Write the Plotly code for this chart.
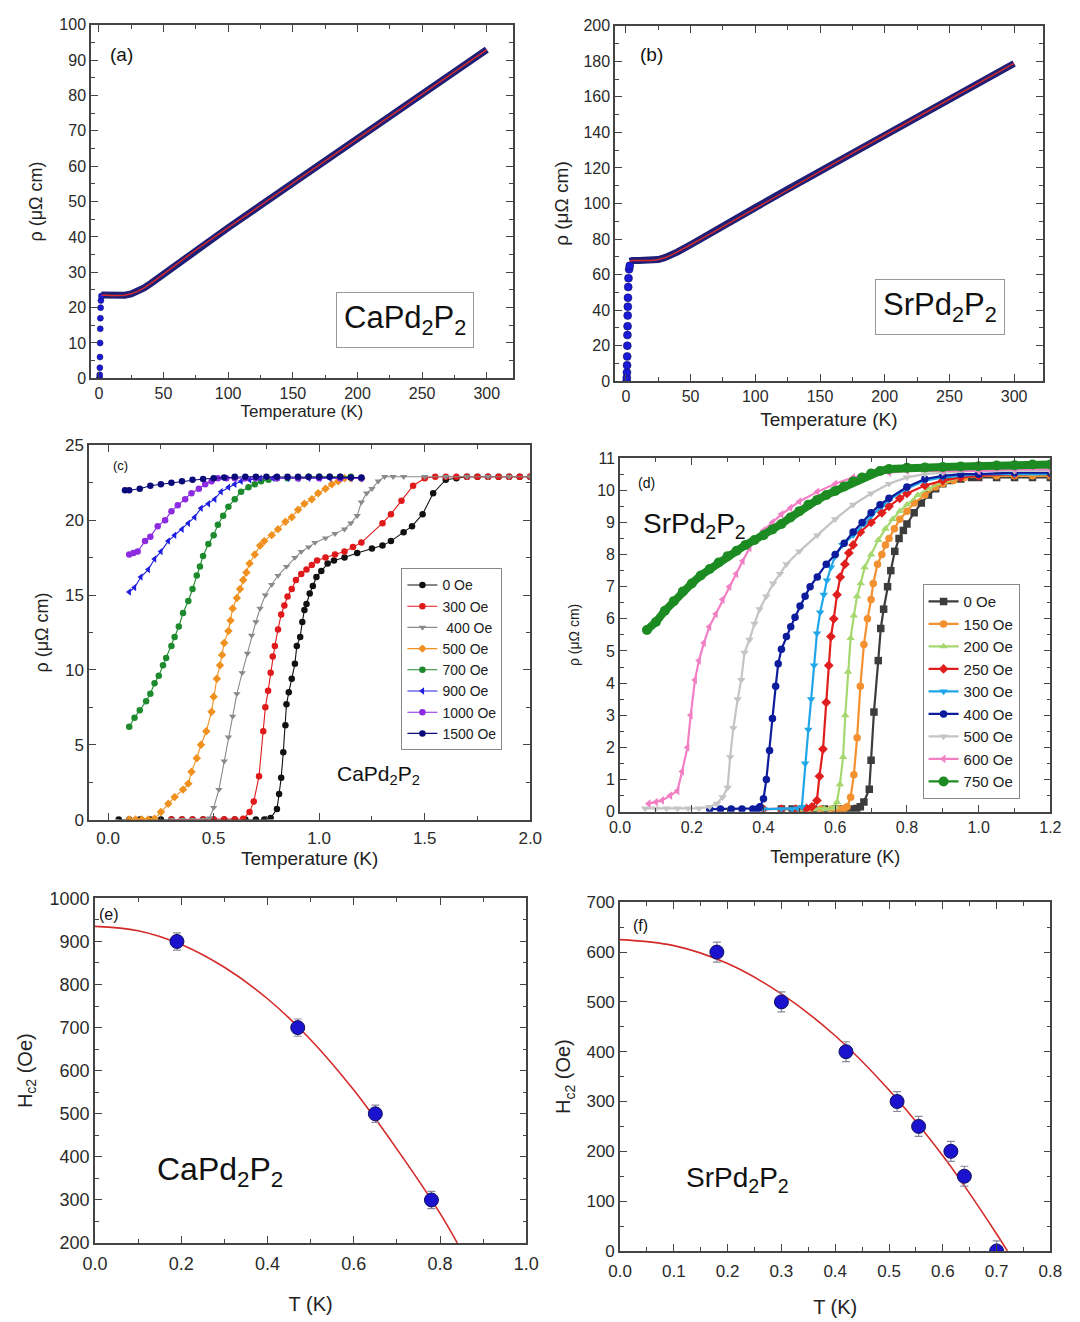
import plotly.graph_objects as go

W, H = 1080, 1322

# ---------------- (a) CaPd2P2, rho(T) up to 300 K ----------------
T_a = [2, 5, 10, 15, 20, 25, 30, 35, 40, 50, 60, 75, 100, 125, 150, 175, 200, 225, 250, 275, 300]
rho_a = [23.6, 23.5, 23.4, 23.4, 23.5, 23.9, 24.6, 25.6, 26.8, 29.5, 32.3, 36.3, 42.6, 48.9,
         55.2, 61.5, 67.8, 74.0, 80.3, 86.6, 93.0]
T_a_lo = [0.5, 0.6, 0.7, 0.8, 0.9, 1.0, 1.1, 1.2, 1.4, 1.6, 2.0]
rho_a_lo = [0, 0, 1, 3, 6, 10, 14, 17, 20, 22, 23.3]

# ---------------- (b) SrPd2P2, rho(T) up to 300 K ----------------
T_b = [3, 5, 10, 15, 20, 25, 30, 35, 40, 50, 60, 75, 100, 125, 150, 175, 200, 225, 250, 275, 300]
rho_b = [67.5, 68.0, 68.0, 67.9, 68.0, 68.5, 69.5, 71.0, 72.8, 76.8, 80.8, 87.0, 97.7, 108.0,
         118.2, 128.3, 138.4, 148.5, 158.6, 168.7, 178.8]
T_b_lo = [0.6, 0.7, 0.8, 0.9, 1.0, 1.1, 1.2, 1.3, 1.4, 1.5, 1.6, 1.8, 2.0, 2.5, 3.0]
rho_b_lo = [0, 2, 5, 9, 14, 20, 26, 31, 37, 42, 47, 53, 58, 63, 65]

# ---------------- (c) CaPd2P2, low-T transitions in field ----------------
c_labels = ["0 Oe", "300 Oe", " 400 Oe", "500 Oe", "700 Oe", "900 Oe", "1000 Oe", "1500 Oe"]
c_T = [
    [0.05, 0.1, 0.15, 0.2, 0.25, 0.3, 0.35, 0.4, 0.45, 0.5, 0.55, 0.6, 0.65, 0.7, 0.74, 0.77, 0.80,
     0.81, 0.82, 0.83, 0.84, 0.845, 0.856, 0.87, 0.885, 0.894, 0.91, 0.92, 0.93, 0.94, 0.955, 0.97,
     0.987, 1.01, 1.04, 1.07, 1.12, 1.18, 1.25, 1.3, 1.34, 1.4, 1.44, 1.49, 1.54, 1.6, 1.65, 1.7,
     1.75, 1.8, 1.85, 1.9, 1.95, 2.0],
    [0.3, 0.35, 0.4, 0.45, 0.5, 0.55, 0.6, 0.64, 0.67, 0.69, 0.715, 0.735, 0.745, 0.758, 0.77, 0.78,
     0.79, 0.805, 0.82, 0.835, 0.85, 0.87, 0.89, 0.915, 0.94, 0.965, 0.99, 1.03, 1.075, 1.12, 1.16,
     1.2, 1.3, 1.34, 1.39, 1.445, 1.5, 1.55, 1.6, 1.65, 1.7, 1.75, 1.8, 1.85, 1.9, 1.95, 2.0],
    [0.3, 0.35, 0.4, 0.45, 0.48, 0.50, 0.525, 0.55, 0.57, 0.59, 0.61, 0.635, 0.66, 0.68, 0.70, 0.72,
     0.745, 0.775, 0.805, 0.845, 0.885, 0.915, 0.95, 0.98, 1.03, 1.075, 1.12, 1.15, 1.18, 1.2, 1.225,
     1.25, 1.28, 1.31, 1.35, 1.4, 1.5, 1.6, 1.7, 1.8, 1.9, 2.0],
    [0.1, 0.13, 0.16, 0.19, 0.22, 0.25, 0.285, 0.315, 0.355, 0.38, 0.395, 0.42, 0.44, 0.465, 0.49,
     0.50, 0.515, 0.53, 0.54, 0.55, 0.57, 0.58, 0.59, 0.61, 0.625, 0.64, 0.655, 0.67, 0.695, 0.72,
     0.74, 0.775, 0.805, 0.84, 0.87, 0.9, 0.93, 0.965, 0.995, 1.03, 1.06, 1.09, 1.12, 1.15, 1.2],
    [0.1, 0.125, 0.15, 0.18, 0.2, 0.22, 0.24, 0.26, 0.275, 0.3, 0.315, 0.335, 0.355, 0.38, 0.4, 0.42,
     0.435, 0.45, 0.475, 0.5, 0.52, 0.545, 0.57, 0.6, 0.63, 0.665, 0.695, 0.725, 0.76, 0.8, 0.85,
     0.9, 0.95, 1.0, 1.05, 1.1, 1.15, 1.2],
    [0.1, 0.125, 0.155, 0.19, 0.22, 0.25, 0.285, 0.315, 0.35, 0.38, 0.41, 0.44, 0.475, 0.505, 0.535,
     0.57, 0.6, 0.63, 0.67, 0.72, 0.78, 0.85, 0.9, 0.95, 1.0, 1.05, 1.1, 1.15, 1.2],
    [0.1, 0.12, 0.14, 0.175, 0.2, 0.235, 0.27, 0.3, 0.33, 0.365, 0.395, 0.43, 0.46, 0.49, 0.52,
     0.56, 0.6, 0.65, 0.7, 0.8, 0.9, 1.0, 1.1, 1.2],
    [0.08, 0.1, 0.15, 0.2, 0.25, 0.3, 0.35, 0.4, 0.45, 0.5, 0.55, 0.6, 0.65, 0.7, 0.75, 0.8, 0.85,
     0.9, 0.95, 1.0, 1.05, 1.1, 1.15, 1.2],
]
c_rho = [
    [0, 0, 0, 0, 0, 0, 0, 0, 0, 0, 0, 0, 0, 0, 0, 0.1, 0.7, 1.7, 2.8, 4.5, 6.3, 7.7, 8.5, 9.4, 10.4,
     11.6, 12.2, 13.2, 14.0, 14.4, 15.1, 15.6, 16.2, 16.6, 17.1, 17.3, 17.5, 17.8, 18.1, 18.3, 18.6,
     19.2, 19.6, 20.4, 21.8, 22.7, 22.8, 22.9, 22.9, 22.9, 22.9, 22.9, 22.9, 22.9],
    [0, 0, 0, 0, 0, 0, 0, 0.05, 0.5, 1.2, 2.9, 5.9, 7.5, 8.6, 9.8, 10.9, 11.6, 12.7, 13.7, 14.3,
     14.9, 15.4, 16.0, 16.4, 16.7, 17.0, 17.3, 17.5, 17.7, 17.9, 18.2, 18.5, 19.8, 20.4, 21.3, 22.3,
     22.8, 22.9, 22.9, 22.9, 22.9, 22.9, 22.9, 22.9, 22.9, 22.9, 22.9],
    [0, 0, 0, 0, 0.1, 0.8, 2.0, 3.9, 5.5, 6.9, 8.4, 9.8, 11.1, 12.3, 13.2, 14.1, 15.0, 15.7, 16.3,
     16.9, 17.5, 17.9, 18.2, 18.5, 18.8, 19.1, 19.4, 19.8, 20.3, 21.2, 21.8, 22.1, 22.6, 22.9, 22.9,
     22.9, 22.9, 22.9, 22.9, 22.9, 22.9, 22.9],
    [0, 0, 0, 0, 0.05, 0.5, 1.05, 1.5, 2.0, 2.4, 3.2, 4.1, 5.0, 5.9, 7.2, 8.2, 9.4, 10.3, 11.0, 11.8,
     12.6, 13.3, 14.1, 14.8, 15.4, 16.0, 16.5, 17.1, 17.7, 18.3, 18.6, 19.0, 19.4, 19.9, 20.2, 20.7,
     21.1, 21.4, 21.8, 22.1, 22.4, 22.6, 22.8, 22.8, 22.8],
    [6.2, 6.8, 7.3, 7.9, 8.4, 9.1, 9.6, 10.3, 10.8, 11.6, 12.2, 12.9, 13.8, 14.6, 15.4, 16.3, 16.9,
     17.6, 18.4, 19.0, 19.7, 20.3, 20.9, 21.4, 21.9, 22.2, 22.4, 22.6, 22.7, 22.8, 22.8, 22.8, 22.9,
     22.9, 22.9, 22.9, 22.9, 22.8],
    [15.2, 15.5, 16.2, 16.7, 17.4, 17.9, 18.6, 19.0, 19.4, 19.8, 20.2, 20.8, 21.1, 21.4, 21.9, 22.2,
     22.4, 22.6, 22.7, 22.8, 22.8, 22.8, 22.8, 22.8, 22.8, 22.8, 22.8, 22.8, 22.8],
    [17.7, 17.8, 17.9, 18.6, 18.9, 19.6, 20.0, 20.6, 21.0, 21.4, 21.8, 22.1, 22.4, 22.6, 22.8, 22.8,
     22.8, 22.8, 22.8, 22.8, 22.8, 22.8, 22.8, 22.8],
    [22.0, 22.0, 22.1, 22.3, 22.4, 22.5, 22.6, 22.7, 22.75, 22.8, 22.85, 22.9, 22.9, 22.9, 22.9,
     22.9, 22.9, 22.9, 22.9, 22.9, 22.9, 22.9, 22.85, 22.85],
]
c_colors = ["#111111", "#e0191b", "#8a8a8a", "#f0901e", "#1e8a2e", "#1f1fe0", "#8c2be0", "#0a0a7a"]
c_symbols = ["circle", "circle", "triangle-down", "diamond", "circle", "triangle-left", "circle", "circle"]

# ---------------- (d) SrPd2P2, low-T transitions in field ----------------
d_labels = ["0 Oe", "150 Oe", "200 Oe", "250 Oe", "300 Oe", "400 Oe", "500 Oe", "600 Oe", "750 Oe"]
d_T = [
    [0.45, 0.48, 0.51, 0.54, 0.57, 0.60, 0.62, 0.64, 0.66, 0.67, 0.68, 0.695, 0.70, 0.708, 0.72,
     0.727, 0.735, 0.746, 0.755, 0.766, 0.778, 0.79, 0.80, 0.82, 0.84, 0.86, 0.88, 0.90, 0.92, 0.95,
     0.98, 1.0, 1.05, 1.1, 1.15, 1.2],
    [0.5, 0.53, 0.56, 0.59, 0.61, 0.625, 0.633, 0.643, 0.652, 0.661, 0.67, 0.68, 0.69, 0.70, 0.706,
     0.718, 0.73, 0.74, 0.75, 0.765, 0.78, 0.8, 0.82, 0.85, 0.88, 0.9, 0.93, 0.96, 1.0, 1.05, 1.1,
     1.15, 1.2],
    [0.45, 0.5, 0.54, 0.57, 0.59, 0.6, 0.605, 0.613, 0.622, 0.628, 0.636, 0.643, 0.652, 0.661, 0.671,
     0.682, 0.7, 0.72, 0.74, 0.76, 0.78, 0.8, 0.83, 0.86, 0.9, 0.95, 1.0, 1.05, 1.1, 1.15, 1.2],
    [0.4, 0.45, 0.49, 0.52, 0.535, 0.549, 0.556, 0.566, 0.575, 0.582, 0.588, 0.596, 0.605, 0.614,
     0.627, 0.638, 0.65, 0.67, 0.7, 0.73, 0.75, 0.78, 0.8, 0.85, 0.9, 0.95, 1.0, 1.1, 1.2],
    [0.4, 0.45, 0.48, 0.495, 0.507, 0.516, 0.525, 0.533, 0.541, 0.549, 0.558, 0.568, 0.577, 0.588,
     0.6, 0.62, 0.65, 0.68, 0.7, 0.73, 0.75, 0.8, 0.85, 0.9, 1.0, 1.1, 1.2],
    [0.25, 0.28, 0.31, 0.34, 0.37, 0.385, 0.39, 0.4, 0.408, 0.417, 0.425, 0.434, 0.441, 0.45, 0.464,
     0.476, 0.488, 0.502, 0.516, 0.53, 0.55, 0.575, 0.6, 0.625, 0.65, 0.675, 0.7, 0.725, 0.75, 0.8,
     0.85, 0.9, 0.95, 1.0, 1.1, 1.2],
    [0.07, 0.1, 0.13, 0.16, 0.19, 0.22, 0.25, 0.27, 0.286, 0.3, 0.307, 0.316, 0.328, 0.338, 0.347,
     0.361, 0.375, 0.389, 0.408, 0.427, 0.446, 0.464, 0.5, 0.55, 0.6, 0.65, 0.7, 0.75, 0.8, 0.85,
     0.9, 1.0, 1.1, 1.2],
    [0.08, 0.1, 0.117, 0.14, 0.16, 0.173, 0.188, 0.197, 0.209, 0.22, 0.234, 0.249, 0.267, 0.286,
     0.305, 0.324, 0.342, 0.361, 0.38, 0.4, 0.425, 0.45, 0.475, 0.5, 0.55, 0.6, 0.65, 0.7, 0.75, 0.8,
     0.9, 1.0, 1.1, 1.2],
    [0.075, 0.1, 0.125, 0.15, 0.175, 0.2, 0.225, 0.25, 0.275, 0.3, 0.325, 0.35, 0.375, 0.4, 0.425,
     0.45, 0.475, 0.5, 0.525, 0.55, 0.575, 0.6, 0.625, 0.65, 0.675, 0.7, 0.725, 0.75, 0.8, 0.85, 0.9,
     0.95, 1.0, 1.05, 1.1, 1.15, 1.2],
]
d_rho = [
    [0.08, 0.08, 0.08, 0.08, 0.08, 0.08, 0.08, 0.08, 0.1, 0.15, 0.3, 0.7, 1.6, 3.1, 4.7, 5.7, 6.3,
     7.0, 7.5, 8.1, 8.5, 8.75, 8.95, 9.3, 9.6, 9.85, 10.05, 10.2, 10.3, 10.35, 10.4, 10.4, 10.4,
     10.4, 10.4, 10.4],
    [0.08, 0.08, 0.08, 0.08, 0.08, 0.1, 0.15, 0.45, 1.15, 2.3, 3.9, 5.2, 6.0, 6.6, 7.1, 7.7, 8.0,
     8.3, 8.5, 8.8, 9.1, 9.35, 9.6, 9.85, 10.1, 10.2, 10.3, 10.4, 10.45, 10.45, 10.45, 10.45, 10.45],
    [0.08, 0.08, 0.08, 0.08, 0.1, 0.15, 0.3, 0.85, 1.7, 3.0, 4.35, 5.4, 6.1, 6.7, 7.1, 7.6, 8.0,
     8.45, 8.8, 9.1, 9.35, 9.55, 9.85, 10.05, 10.25, 10.4, 10.45, 10.5, 10.5, 10.5, 10.5],
    [0.08, 0.08, 0.08, 0.1, 0.15, 0.35, 1.1, 1.95, 3.4, 4.55, 5.45, 6.0, 6.75, 7.3, 7.7, 8.05, 8.3,
     8.7, 9.0, 9.3, 9.5, 9.75, 9.9, 10.15, 10.3, 10.4, 10.45, 10.5, 10.5],
    [0.08, 0.08, 0.08, 0.1, 0.15, 1.5, 2.55, 3.5, 4.55, 5.55, 6.2, 6.75, 7.2, 7.6, 7.95, 8.3, 8.6,
     8.95, 9.2, 9.5, 9.7, 10.05, 10.3, 10.4, 10.5, 10.5, 10.5],
    [0.08, 0.08, 0.08, 0.08, 0.08, 0.1, 0.15, 0.4, 1.0, 1.9, 2.9, 3.9, 4.6, 5.05, 5.45, 5.75, 6.05,
     6.4, 6.7, 7.0, 7.3, 7.7, 8.0, 8.35, 8.7, 9.0, 9.3, 9.55, 9.75, 10.1, 10.35, 10.45, 10.5, 10.5,
     10.55, 10.55],
    [0.1, 0.1, 0.1, 0.1, 0.1, 0.1, 0.15, 0.25, 0.45, 0.75, 1.7, 2.6, 3.5, 4.1, 4.95, 5.35, 5.85, 6.3,
     6.7, 7.1, 7.4, 7.7, 8.1, 8.6, 9.1, 9.55, 9.9, 10.2, 10.4, 10.5, 10.55, 10.6, 10.6, 10.6],
    [0.25, 0.3, 0.35, 0.5, 0.65, 1.25, 2.0, 3.0, 4.1, 4.7, 5.25, 5.75, 6.15, 6.6, 7.0, 7.4, 7.8, 8.2,
     8.5, 8.75, 9.0, 9.25, 9.45, 9.65, 9.95, 10.2, 10.4, 10.5, 10.55, 10.6, 10.6, 10.6, 10.65, 10.65],
    [5.65, 5.9, 6.25, 6.55, 6.85, 7.1, 7.35, 7.55, 7.75, 7.95, 8.12, 8.3, 8.45, 8.6, 8.78, 8.95,
     9.15, 9.35, 9.55, 9.7, 9.85, 9.98, 10.12, 10.27, 10.4, 10.52, 10.6, 10.66, 10.7, 10.71, 10.72,
     10.74, 10.75, 10.77, 10.78, 10.8, 10.8],
]
d_colors = ["#3c3c3c", "#f39030", "#a6d870", "#e01e1e", "#1ea6e8", "#0c1c9c", "#c4c4c4", "#f27fc4", "#1c8c22"]
d_symbols = ["square", "circle", "triangle-down", "diamond", "triangle-down", "circle",
             "triangle-down", "triangle-left", "circle"]
d_symbols[2] = "triangle-up"

# ---------------- (e), (f) upper critical field ----------------
T_e = [0.19, 0.47, 0.65, 0.78]
Hc2_e = [900, 700, 500, 300]
err_e = [20, 20, 20, 20]
T_e_fit = [0.0, 0.1, 0.2, 0.3, 0.4, 0.5, 0.6, 0.7, 0.8, 0.84]
Hc2_e_fit = [935, 925, 893, 840, 767, 672, 555, 418, 269, 200]

T_f = [0.18, 0.30, 0.42, 0.515, 0.555, 0.615, 0.64, 0.70]
Hc2_f = [600, 500, 400, 300, 250, 200, 150, 0]
err_f = [20, 20, 20, 20, 20, 20, 20, 20]
T_f_fit = [0.0, 0.1, 0.2, 0.3, 0.4, 0.5, 0.6, 0.65, 0.7, 0.72]
Hc2_f_fit = [625, 613, 577, 516, 432, 323, 191, 115, 34, 0]

FONT = "Liberation Sans, Arial, sans-serif"
AX = "#444444"


def xdom(p0, p1):
    return [p0 / W, p1 / W]


def ydom(top, bot):
    return [1 - bot / H, 1 - top / H]


def axis(rng, dtick, mdtick, domain, anchor, fsize=16, fmt=None, title=None, tsize=17,
         standoff=8, lstand=None):
    d = dict(range=rng, domain=domain, anchor=anchor, tick0=0, dtick=dtick,
             ticks="inside", ticklen=7, tickwidth=1.3, tickcolor=AX,
             minor=dict(ticks="inside", ticklen=4, tickwidth=1.1, tickcolor=AX, dtick=mdtick, tick0=0),
             showline=True, linecolor=AX, linewidth=1.6, mirror="allticks",
             showgrid=False, zeroline=False,
             tickfont=dict(size=fsize, color="#2a2a2a", family=FONT))
    if fmt:
        d["tickformat"] = fmt
    if lstand is not None:
        d["ticklabelstandoff"] = lstand
    if title:
        d["title"] = dict(text=title, font=dict(size=tsize, color="#222222", family=FONT), standoff=standoff)
    return d


fig = go.Figure()

# (a)
fig.add_trace(go.Scatter(x=T_a, y=rho_a, mode="lines", line=dict(color="#1f1f78", width=7),
                         xaxis="x", yaxis="y", showlegend=False))
fig.add_trace(go.Scatter(x=T_a_lo, y=rho_a_lo, mode="markers",
                         marker=dict(color="#1a1ad6", size=6, line=dict(color="#0a0a50", width=0.5)),
                         xaxis="x", yaxis="y", showlegend=False))
fig.add_trace(go.Scatter(x=T_a, y=rho_a, mode="lines", line=dict(color="#d42a2a", width=1.5),
                         xaxis="x", yaxis="y", showlegend=False))

# (b)
fig.add_trace(go.Scatter(x=T_b, y=rho_b, mode="lines", line=dict(color="#1f1f78", width=7),
                         xaxis="x2", yaxis="y2", showlegend=False))
fig.add_trace(go.Scatter(x=T_b_lo, y=rho_b_lo, mode="markers",
                         marker=dict(color="#1a1ad6", size=8, line=dict(color="#0a0a50", width=0.5)),
                         xaxis="x2", yaxis="y2", showlegend=False))
fig.add_trace(go.Scatter(x=T_b, y=rho_b, mode="lines", line=dict(color="#d42a2a", width=1.5),
                         xaxis="x2", yaxis="y2", showlegend=False))

# (c)
for lab, tx, ry, col, sym in zip(c_labels, c_T, c_rho, c_colors, c_symbols):
    fig.add_trace(go.Scatter(x=tx, y=ry, name=lab, mode="lines+markers",
                             line=dict(color=col, width=1.1),
                             marker=dict(color=col, symbol=sym, size=6.5, line=dict(width=0)),
                             xaxis="x3", yaxis="y3", legend="legend"))

# (d): dense data rendered as heavy traces; the 750 Oe band gets an extra wide underlay
for lab, tx, ry, col, sym in zip(d_labels, d_T, d_rho, d_colors, d_symbols):
    big = lab == "750 Oe"
    if big:
        fig.add_trace(go.Scatter(x=tx, y=ry, mode="lines", line=dict(color=col, width=8),
                                 xaxis="x4", yaxis="y4", showlegend=False))
    fig.add_trace(go.Scatter(x=tx, y=ry, name=lab, mode="lines+markers",
                             line=dict(color=col, width=2.2),
                             marker=dict(color=col, symbol=sym, size=10 if big else 7.5, line=dict(width=0)),
                             xaxis="x4", yaxis="y4", legend="legend2"))

# (e)
fig.add_trace(go.Scatter(x=T_e_fit, y=Hc2_e_fit, mode="lines", line=dict(color="#d42a2a", width=1.6, shape="spline"),
                         xaxis="x5", yaxis="y5", showlegend=False))
fig.add_trace(go.Scatter(x=T_e, y=Hc2_e, mode="markers",
                         error_y=dict(type="data", array=err_e, color="#8a8a9a", thickness=1.2, width=4),
                         marker=dict(color="#1a12cc", size=14, line=dict(color="#101060", width=1)),
                         xaxis="x5", yaxis="y5", showlegend=False))

# (f)
fig.add_trace(go.Scatter(x=T_f_fit, y=Hc2_f_fit, mode="lines", line=dict(color="#d42a2a", width=1.6, shape="spline"),
                         xaxis="x6", yaxis="y6", showlegend=False))
fig.add_trace(go.Scatter(x=T_f, y=Hc2_f, mode="markers",
                         error_y=dict(type="data", array=err_f, color="#8a8a9a", thickness=1.2, width=4),
                         marker=dict(color="#1a12cc", size=14, line=dict(color="#101060", width=1)),
                         xaxis="x6", yaxis="y6", showlegend=False))

rho_title = "ρ (μΩ cm)"
layout = dict(
    width=W, height=H, margin=dict(l=0, r=0, t=0, b=0),
    paper_bgcolor="white", plot_bgcolor="white",
    font=dict(family=FONT, color="#222222"),
    xaxis=axis([-6, 320], 50, 25, xdom(80, 512), "y", fsize=16, title="Temperature (K)", tsize=17, standoff=4),
    yaxis=axis([0, 100], 10, 5, ydom(15, 374), "x", fsize=16, title=rho_title, tsize=18, standoff=12),
    xaxis2=axis([-8.3, 322], 50, 25, xdom(617, 1055), "y2", fsize=16, title="Temperature (K)", tsize=19, standoff=8),
    yaxis2=axis([0, 200], 20, 10, ydom(16, 377), "x2", fsize=16, title=rho_title, tsize=19, standoff=10),
    xaxis3=axis([-0.09, 2.0], 0.5, 0.25, xdom(78, 530), "y3", fmt=".1f", fsize=17,
                title="Temperature (K)", tsize=19, standoff=0, lstand=2),
    yaxis3=axis([0, 25], 5, 2.5, ydom(442, 822), "x3", fsize=17, title=rho_title, tsize=18, standoff=12),
    xaxis4=axis([0, 1.2], 0.2, 0.1, xdom(622, 1063), "y4", fmt=".1f", fsize=16,
                title="Temperature (K)", tsize=18, standoff=16),
    yaxis4=axis([0, 11], 1, 0.5, ydom(455, 814), "x4", fsize=16, title=rho_title, tsize=14, standoff=14),
    xaxis5=axis([0, 1.0], 0.2, 0.1, xdom(84, 526), "y5", fmt=".1f", fsize=18,
                title="T (K)", tsize=20, standoff=24, lstand=4),
    yaxis5=axis([200, 1000], 100, 50, ydom(902, 1252), "x5", fsize=18,
                title="H<sub>c2</sub> (Oe)", tsize=20, standoff=12),
    xaxis6=axis([0, 0.8], 0.1, 0.05, xdom(622, 1063), "y6", fmt=".1f", fsize=17,
                title="T (K)", tsize=20, standoff=20, lstand=4),
    yaxis6=axis([0, 700], 100, 50, ydom(906, 1260), "x6", fsize=17,
                title="H<sub>c2</sub> (Oe)", tsize=20, standoff=10),
    legend=dict(x=398 / W, y=1 - 567 / H, xanchor="left", yanchor="top",
                bgcolor="white", bordercolor="#888888", borderwidth=1,
                font=dict(size=14, color="#222222", family=FONT), itemwidth=30,
                tracegroupgap=0),
    legend2=dict(x=932 / W, y=1 - 583 / H, xanchor="left", yanchor="top",
                 bgcolor="white", bordercolor="#888888", borderwidth=1,
                 font=dict(size=15, color="#222222", family=FONT), itemwidth=30,
                 tracegroupgap=0),
)
fig.update_layout(**layout)


def note(text, px, py, size, box=False, anchor="center"):
    a = dict(text=text, x=px / W, y=1 - py / H, xref="paper", yref="paper",
             xanchor=anchor, yanchor="middle", showarrow=False,
             font=dict(size=size, color="#111111", family=FONT))
    if box:
        a.update(bordercolor="#999999", borderwidth=1, borderpad=7, bgcolor="white")
    fig.add_annotation(**a)


note("(a)", 97, 45, 19, anchor="left")
note("(b)", 640, 45, 19, anchor="left")
note("(c)", 100, 463, 13, anchor="left")
note("(d)", 638, 480, 14, anchor="left")
note("(e)", 86, 918, 16, anchor="left")
note("(f)", 633, 930, 16, anchor="left")
note("CaPd<sub>2</sub>P<sub>2</sub>", 402, 315, 31, box=True)
note("SrPd<sub>2</sub>P<sub>2</sub>", 950, 302, 31, box=True)
note("CaPd<sub>2</sub>P<sub>2</sub>", 375, 777, 21)
note("SrPd<sub>2</sub>P<sub>2</sub>", 698, 523, 28)
note("CaPd<sub>2</sub>P<sub>2</sub>", 212, 1179, 32)
note("SrPd<sub>2</sub>P<sub>2</sub>", 742, 1187, 28)

fig.write_html("out.html")
